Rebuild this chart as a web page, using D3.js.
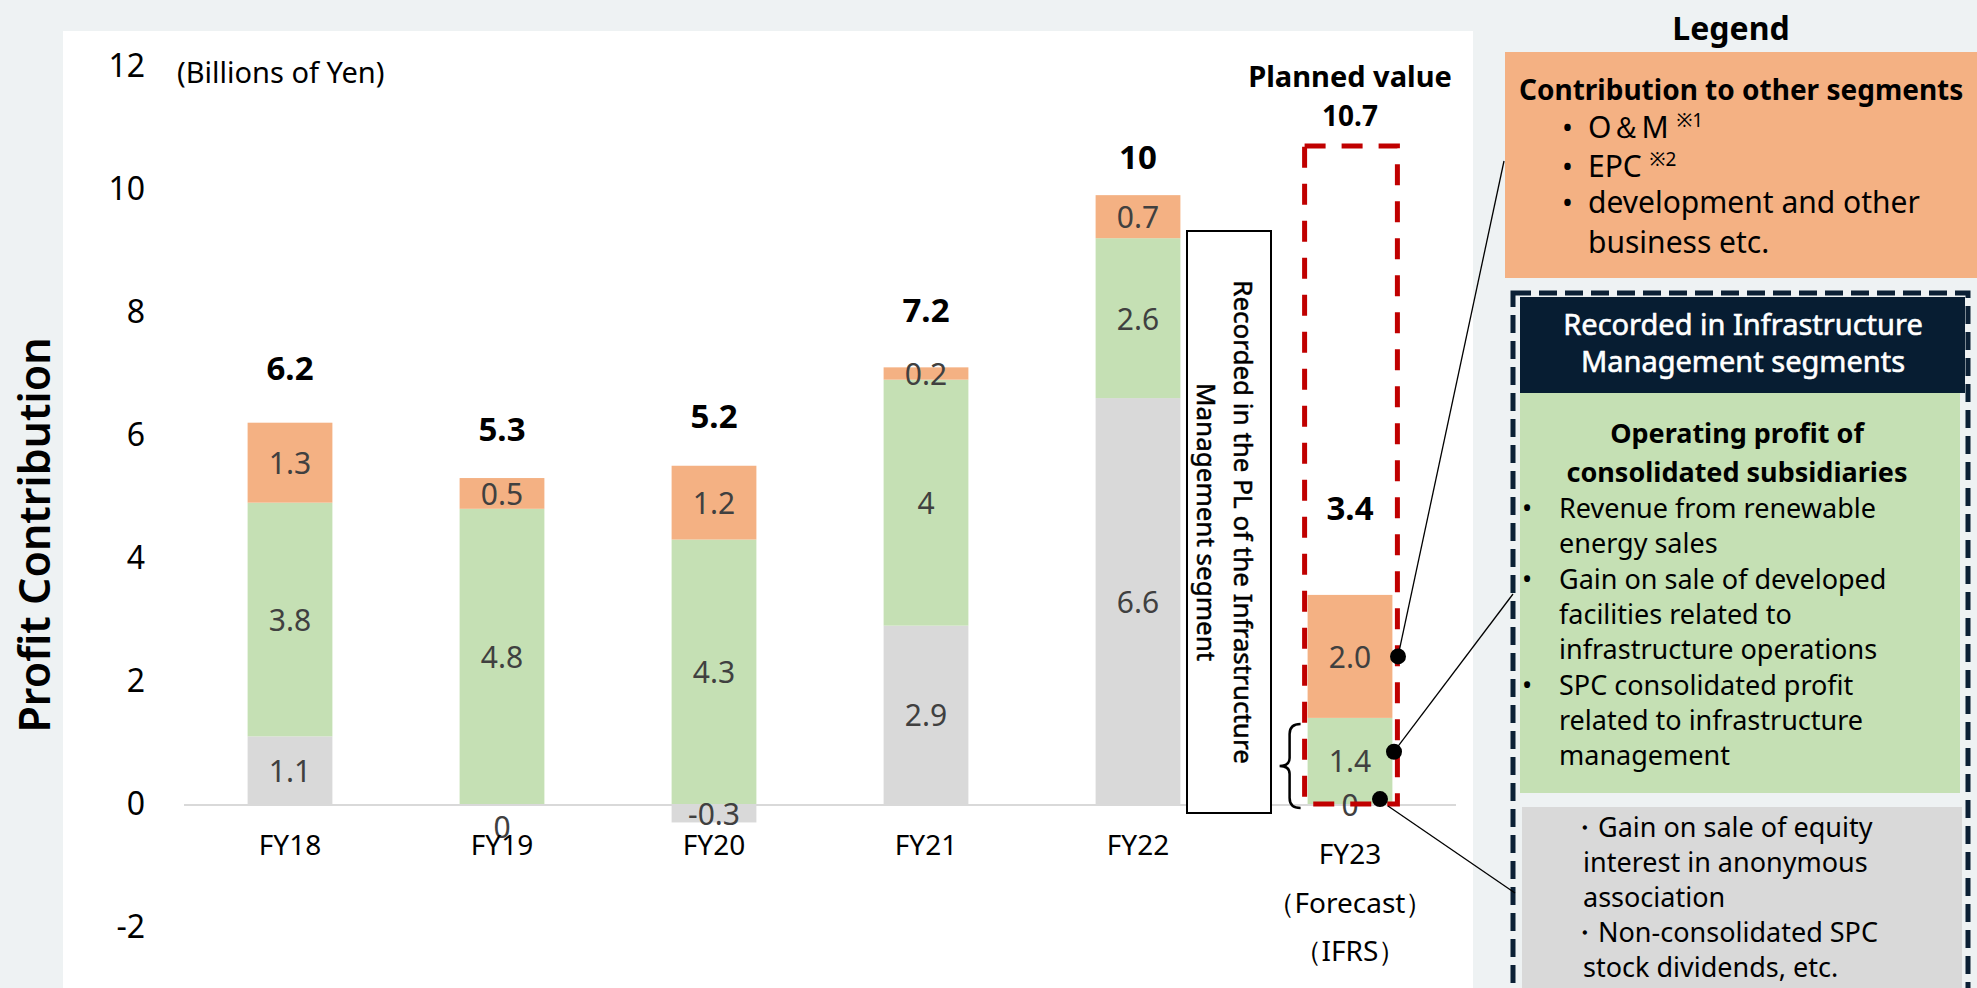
<!DOCTYPE html>
<html>
<head>
<meta charset="utf-8">
<script src="https://cdn.jsdelivr.net/npm/d3@7"></script>
<style>
  body { margin: 0; background: #EEF2F3; font-family: "Noto Sans", sans-serif; }
  svg { display: block; }
</style>
</head>
<body>
<svg id="chart"></svg>
<script>
// values in billions of yen
const categories = ['FY18', 'FY19', 'FY20', 'FY21', 'FY22', 'FY23'];
const categorySub = { FY23: ['（Forecast）', '（IFRS）'] };
const equityGain = ['1.1', '0', '-0.3', '2.9', '6.6', '0'];       // grey
const subsidiaryProfit = ['3.8', '4.8', '4.3', '4', '2.6', '1.4'];  // green
const otherSegments = ['1.3', '0.5', '1.2', '0.2', '0.7', '2.0'];   // orange
const totals = ['6.2', '5.3', '5.2', '7.2', '10', '3.4'];
const plannedValue = 10.7;
const yTicks = [-2, 0, 2, 4, 6, 8, 10, 12];

const W = 1977, H = 988;
const svg = d3.select('#chart').attr('width', W).attr('height', H);

const colors = { gray: '#D9D9D9', green: '#C5E0B4', orange: '#F4B183' };
const rows = categories.map((c, i) => ({
  cat: c,
  gray: +equityGain[i],
  green: +subsidiaryProfit[i],
  orange: +otherSegments[i],
  text: { gray: equityGain[i], green: subsidiaryProfit[i], orange: otherSegments[i] }
}));

// white plot panel
svg.append('rect').attr('x', 63).attr('y', 31).attr('width', 1410).attr('height', H - 31).attr('fill', '#fff');

const x = d3.scaleBand().domain(categories).range([184, 1456]).paddingInner(0.6).paddingOuter(0.3);
const y = d3.scaleLinear().domain([-2, 12]).range([927, 66]);

const series = d3.stack().keys(['gray', 'green', 'orange']).offset(d3.stackOffsetDiverging)(rows);

// y axis labels only
const yAxis = svg.append('g')
  .attr('transform', 'translate(145,0)')
  .call(d3.axisLeft(y).tickValues(yTicks).tickFormat(d => String(d)).tickSize(0).tickPadding(0));
yAxis.select('.domain').remove();
yAxis.selectAll('text').attr('font-size', 32).attr('font-family', '"Noto Sans", sans-serif').attr('fill', '#000');

svg.append('text').attr('x', 177).attr('y', 83).attr('font-size', 29).text('(Billions of Yen)');

svg.append('text')
  .attr('transform', 'translate(33,535) rotate(-90)')
  .attr('text-anchor', 'middle').attr('dominant-baseline', 'central')
  .attr('font-size', 43).attr('font-weight', 600).text('Profit Contribution');

// stacked bars
const layers = svg.append('g').selectAll('g').data(series).join('g').attr('fill', s => colors[s.key]);
layers.selectAll('rect').data(s => s).join('rect')
  .attr('x', d => x(d.data.cat))
  .attr('width', x.bandwidth())
  .attr('y', d => y(Math.max(d[0], d[1])))
  .attr('height', d => Math.abs(y(d[0]) - y(d[1])));

// baseline
svg.append('line').attr('x1', 184).attr('x2', 1456).attr('y1', y(0) + 1).attr('y2', y(0) + 1)
  .attr('stroke', '#D9D9D9').attr('stroke-width', 2);

// segment labels
const nudge = { 'FY19-gray': 22 };
series.forEach(s => {
  svg.append('g').selectAll('text').data(s).join('text')
    .attr('x', d => x(d.data.cat) + x.bandwidth() / 2)
    .attr('y', d => y((d[0] + d[1]) / 2) + (nudge[d.data.cat + '-' + s.key] || 0))
    .attr('text-anchor', 'middle').attr('dominant-baseline', 'central')
    .attr('font-size', 30).attr('fill', '#404040')
    .text(d => d.data.text[s.key]);
});

// totals above bars
const lift = [55, 50, 50, 58, 39, 87];
const tops = rows.map((r, i) => d3.max(series, s => s[i][1]));
svg.append('g').selectAll('text').data(totals).join('text')
  .attr('x', (d, i) => x(categories[i]) + x.bandwidth() / 2)
  .attr('y', (d, i) => y(tops[i]) - lift[i])
  .attr('text-anchor', 'middle').attr('dominant-baseline', 'central')
  .attr('font-size', 33).attr('font-weight', 'bold').text(d => d);

// category axis
const xAxis = svg.append('g')
  .attr('transform', `translate(0,${y(0) + 2})`)
  .call(d3.axisBottom(x).tickSize(0).tickPadding(29));
xAxis.select('.domain').remove();
xAxis.selectAll('text').attr('font-size', 28).attr('font-family', '"Noto Sans", sans-serif').attr('fill', '#000');
xAxis.selectAll('.tick').filter(d => categorySub[d]).select('text').each(function (d) {
  const t = d3.select(this).attr('dy', '1.05em');
  categorySub[d].forEach(line => t.append('tspan').attr('x', 0).attr('dy', '1.72em').text(line));
});

// FY23 annotations
const cx23 = x('FY23'), bw = x.bandwidth();
svg.append('rect')
  .attr('x', cx23 - 3).attr('y', y(plannedValue))
  .attr('width', bw + 8).attr('height', y(0) - y(plannedValue))
  .attr('fill', 'none').attr('stroke', '#C00000').attr('stroke-width', 5).attr('stroke-dasharray', '21 16');

svg.append('text').attr('x', cx23 + bw / 2).attr('y', 75).attr('text-anchor', 'middle')
  .attr('dominant-baseline', 'central').attr('font-size', 29).attr('font-weight', 'bold').text('Planned value');
svg.append('text').attr('x', cx23 + bw / 2).attr('y', 115).attr('text-anchor', 'middle')
  .attr('dominant-baseline', 'central').attr('font-size', 28).attr('font-weight', 'bold').text(plannedValue);

// brace left of the green FY23 segment
const bTop = y(+subsidiaryProfit[5]) + 6, bBot = y(0) + 4, bMid = (bTop + bBot) / 2, bx = cx23 - 7;
svg.append('path')
  .attr('d', `M${bx},${bTop} Q${bx - 11},${bTop} ${bx - 11},${bTop + 10} L${bx - 11},${bMid - 8}
     Q${bx - 11},${bMid} ${bx - 21},${bMid} Q${bx - 11},${bMid} ${bx - 11},${bMid + 8}
     L${bx - 11},${bBot - 10} Q${bx - 11},${bBot} ${bx},${bBot}`)
  .attr('fill', 'none').attr('stroke', '#000').attr('stroke-width', 2.5);

// vertical caption box
svg.append('rect').attr('x', 1187).attr('y', 231).attr('width', 84).attr('height', 582)
  .attr('fill', '#fff').attr('stroke', '#000').attr('stroke-width', 2);
[['Recorded in the PL of the Infrastructure', 1244], ['Management segment', 1207]].forEach(([t, tx]) => {
  svg.append('text').attr('transform', `translate(${tx},522) rotate(90)`)
    .attr('text-anchor', 'middle').attr('dominant-baseline', 'central')
    .attr('font-size', 26).attr('stroke', '#000').attr('stroke-width', 0.5).text(t);
});

// legend
svg.append('text').attr('x', 1731).attr('y', 27).attr('text-anchor', 'middle').attr('dominant-baseline', 'central')
  .attr('font-size', 32).attr('font-weight', 'bold').text('Legend');

svg.append('rect').attr('x', 1505).attr('y', 52).attr('width', W - 1505).attr('height', 226).attr('fill', colors.orange);
svg.append('text').attr('x', 1519).attr('y', 100).attr('font-size', 28).attr('font-weight', 'bold')
  .text('Contribution to other segments');
const orangeItems = [['O＆M', '※1'], ['EPC', '※2'], ['development and other', ''], ['business etc.', '']];
const orangeBase = [138, 177, 213, 253];
orangeItems.forEach(([t, sup], i) => {
  if (i < 3) svg.append('text').attr('x', 1562).attr('y', orangeBase[i]).attr('font-size', 29).text('•');
  const tt = svg.append('text').attr('x', 1588).attr('y', orangeBase[i]).attr('font-size', 30).text(t + ' ');
  if (sup) tt.append('tspan').attr('font-size', 19).attr('dy', -11).text(sup);
});

// infrastructure management block
svg.append('rect').attr('x', 1520).attr('y', 393).attr('width', 440).attr('height', 400).attr('fill', colors.green);
svg.append('rect').attr('x', 1522).attr('y', 807).attr('width', 440).attr('height', 200).attr('fill', colors.gray);
svg.append('rect').attr('x', 1520).attr('y', 297).attr('width', 445).attr('height', 96).attr('fill', '#071D32');
svg.append('rect').attr('x', 1513).attr('y', 293).attr('width', 455).attr('height', 800)
  .attr('fill', 'none').attr('stroke', '#0B2035').attr('stroke-width', 5).attr('stroke-dasharray', '18 8');

[['Recorded in Infrastructure', 335], ['Management segments', 372]].forEach(([t, by]) => {
  svg.append('text').attr('x', 1743).attr('y', by).attr('text-anchor', 'middle')
    .attr('font-size', 29).attr('fill', '#fff').attr('stroke', '#fff').attr('stroke-width', 0.6).text(t);
});
[['Operating profit of', 443], ['consolidated subsidiaries', 482]].forEach(([t, by]) => {
  svg.append('text').attr('x', 1737).attr('y', by).attr('text-anchor', 'middle')
    .attr('font-size', 27).attr('font-weight', 'bold').text(t);
});
const greenLines = [
  ['Revenue from renewable', true], ['energy sales', false],
  ['Gain on sale of developed', true], ['facilities related to', false], ['infrastructure operations', false],
  ['SPC consolidated profit', true], ['related to infrastructure', false], ['management', false]
];
greenLines.forEach(([t, bullet], i) => {
  const by = 518 + i * 35.3;
  if (bullet) svg.append('text').attr('x', 1522).attr('y', by).attr('font-size', 27).text('•');
  svg.append('text').attr('x', 1559).attr('y', by).attr('font-size', 27).text(t);
});
const grayLines = ['・Gain on sale of equity', 'interest in anonymous', 'association', '・Non-consolidated SPC', 'stock dividends, etc.'];
grayLines.forEach((t, i) => {
  svg.append('text').attr('x', t.startsWith('・') ? 1571 : 1583).attr('y', 837 + i * 35)
    .attr('font-size', 27).text(t);
});

// leader lines and dots
const leaders = [
  [[1398, y(2.4)], [1504, 161]],
  [[1394, y(0.85)], [1513, 594]],
  [[1388, y(0) + 2], [1515, 893]]
];
leaders.forEach(([a, b]) => {
  svg.append('line').attr('x1', a[0]).attr('y1', a[1]).attr('x2', b[0]).attr('y2', b[1])
    .attr('stroke', '#000').attr('stroke-width', 1.3);
});
[[1398, y(2.4)], [1394, y(0.85)], [1380, y(0.08)]].forEach(p => {
  svg.append('circle').attr('cx', p[0]).attr('cy', p[1]).attr('r', 8).attr('fill', '#000');
});
</script>
</body>
</html>
